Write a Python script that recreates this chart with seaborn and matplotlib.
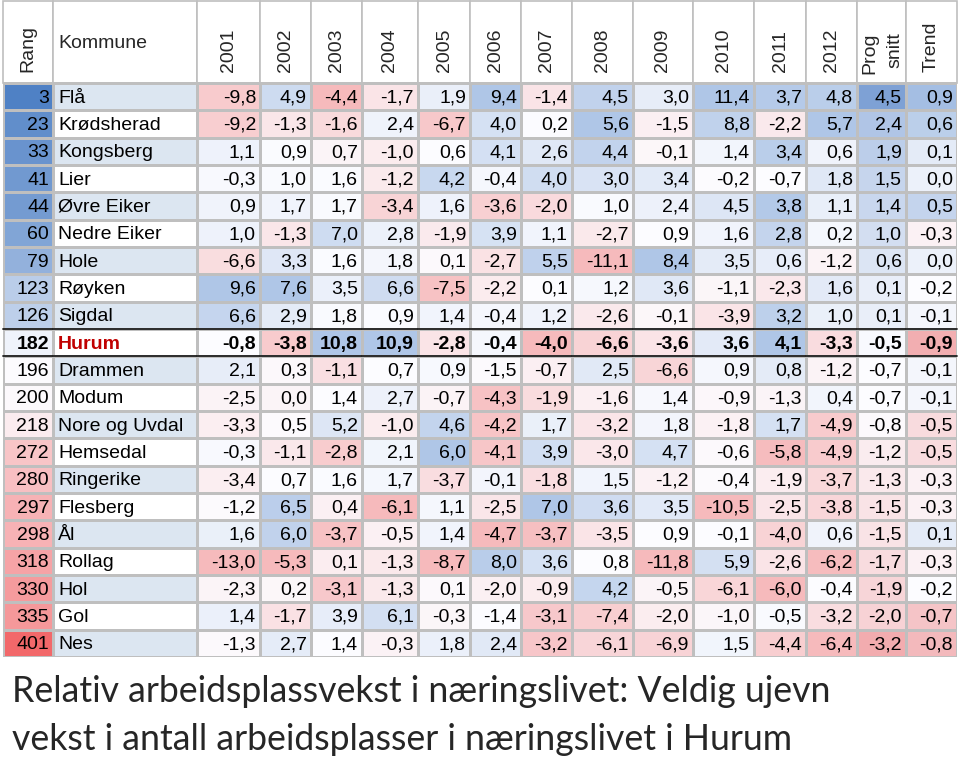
import numpy as np
import pandas as pd
import matplotlib
matplotlib.use("Agg")
import matplotlib.pyplot as plt
import seaborn as sns
from matplotlib.colors import LinearSegmentedColormap, ListedColormap, TwoSlopeNorm
from matplotlib.patches import Rectangle

sns.set_theme(style="white")
plt.rcParams['font.family'] = ['Liberation Sans', 'DejaVu Sans']

# ---- data ----
rang = [3, 23, 33, 41, 44, 60, 79, 123, 126, 182, 196, 200, 218, 272, 280, 297, 298, 318, 330, 335, 401]
kommune = ["Flå", "Krødsherad", "Kongsberg", "Lier", "Øvre Eiker", "Nedre Eiker", "Hole", "Røyken",
           "Sigdal", "Hurum", "Drammen", "Modum", "Nore og Uvdal", "Hemsedal", "Ringerike", "Flesberg",
           "Ål", "Rollag", "Hol", "Gol", "Nes"]

y2001 = [-9.8, -9.2, 1.1, -0.3, 0.9, 1.0, -6.6, 9.6, 6.6, -0.8, 2.1, -2.5, -3.3, -0.3, -3.4, -1.2, 1.6, -13.0, -2.3, 1.4, -1.3]
y2002 = [4.9, -1.3, 0.9, 1.0, 1.7, -1.3, 3.3, 7.6, 2.9, -3.8, 0.3, 0.0, 0.5, -1.1, 0.7, 6.5, 6.0, -5.3, 0.2, -1.7, 2.7]
y2003 = [-4.4, -1.6, 0.7, 1.6, 1.7, 7.0, 1.6, 3.5, 1.8, 10.8, -1.1, 1.4, 5.2, -2.8, 1.6, 0.4, -3.7, 0.1, -3.1, 3.9, 1.4]
y2004 = [-1.7, 2.4, -1.0, -1.2, -3.4, 2.8, 1.8, 6.6, 0.9, 10.9, 0.7, 2.7, -1.0, 2.1, 1.7, -6.1, -0.5, -1.3, -1.3, 6.1, -0.3]
y2005 = [1.9, -6.7, 0.6, 4.2, 1.6, -1.9, 0.1, -7.5, 1.4, -2.8, 0.9, -0.7, 4.6, 6.0, -3.7, 1.1, 1.4, -8.7, 0.1, -0.3, 1.8]
y2006 = [9.4, 4.0, 4.1, -0.4, -3.6, 3.9, -2.7, -2.2, -0.4, -0.4, -1.5, -4.3, -4.2, -4.1, -0.1, -2.5, -4.7, 8.0, -2.0, -1.4, 2.4]
y2007 = [-1.4, 0.2, 2.6, 4.0, -2.0, 1.1, 5.5, 0.1, 1.2, -4.0, -0.7, -1.9, 1.7, 3.9, -1.8, 7.0, -3.7, 3.6, -0.9, -3.1, -3.2]
y2008 = [4.5, 5.6, 4.4, 3.0, 1.0, -2.7, -11.1, 1.2, -2.6, -6.6, 2.5, -1.6, -3.2, -3.0, 1.5, 3.6, -3.5, 0.8, 4.2, -7.4, -6.1]
y2009 = [3.0, -1.5, -0.1, 3.4, 2.4, 0.9, 8.4, 3.6, -0.1, -3.6, -6.6, 1.4, 1.8, 4.7, -1.2, 3.5, 0.9, -11.8, -0.5, -2.0, -6.9]
y2010 = [11.4, 8.8, 1.4, -0.2, 4.5, 1.6, 3.5, -1.1, -3.9, 3.6, 0.9, -0.9, -1.8, -0.6, -0.4, -10.5, -0.1, 5.9, -6.1, -1.0, 1.5]
y2011 = [3.7, -2.2, 3.4, -0.7, 3.8, 2.8, 0.6, -2.3, 3.2, 4.1, 0.8, -1.3, 1.7, -5.8, -1.9, -2.5, -4.0, -2.6, -6.0, -0.5, -4.4]
y2012 = [4.8, 5.7, 0.6, 1.8, 1.1, 0.2, -1.2, 1.6, 1.0, -3.3, -1.2, 0.4, -4.9, -4.9, -3.7, -3.8, 0.6, -6.2, -0.4, -3.2, -6.4]
prog_snitt = [4.5, 2.4, 1.9, 1.5, 1.4, 1.0, 0.6, 0.1, 0.1, -0.5, -0.7, -0.7, -0.8, -1.2, -1.3, -1.5, -1.5, -1.7, -1.9, -2.0, -3.2]
trend = [0.9, 0.6, 0.1, 0.0, 0.5, -0.3, 0.0, -0.2, -0.1, -0.9, -0.1, -0.1, -0.5, -0.5, -0.3, -0.3, 0.1, -0.3, -0.2, -0.7, -0.8]

years = ["2001", "2002", "2003", "2004", "2005", "2006", "2007", "2008", "2009", "2010", "2011", "2012"]
df = pd.DataFrame(dict(zip(years, [y2001, y2002, y2003, y2004, y2005, y2006, y2007, y2008,
                                   y2009, y2010, y2011, y2012])))
df["Prog snitt"] = prog_snitt
df["Trend"] = trend
highlight = "Hurum"

# ---- layout / style ----
col_px = [50, 144, 63, 51, 51, 56, 52, 51, 51, 61, 60, 61, 52, 51, 49, 51]
grid = "#BFBFBF"
white = "#FCFCFF"
fs = 14
n = len(kommune)
hl = kommune.index(highlight)


def scale_cmap(low, high):
    return LinearSegmentedColormap.from_list("x", [low, white, high])


cmap_rang = scale_cmap("#4F81C5", "#F2686A")   # low rank = blue
cmap_year = scale_cmap("#F6BABC", "#AFC6E7")
cmap_prog = scale_cmap("#F2ACAF", "#7EA1D5")
cmap_trend = scale_cmap("#F2AEB1", "#A4BEE3")

fig = plt.figure(figsize=(9.6, 7.58), dpi=100)
gs = fig.add_gridspec(1, len(col_px), width_ratios=col_px, left=3 / 960, right=957 / 960,
                      top=1 - 1 / 758, bottom=1 - 657 / 758, wspace=0)
axes = [fig.add_subplot(gs[0, i]) for i in range(len(col_px))]


def heat(ax, values, cmap, norm=None):
    sns.heatmap(pd.DataFrame({"v": values}), ax=ax, cmap=cmap, norm=norm, cbar=False,
                linewidths=0.8, linecolor=grid, xticklabels=False, yticklabels=False)
    ax.set_ylim(n, -3)
    ax.set_xlim(0, 1)
    ax.add_patch(Rectangle((0, -3), 1, 3, fill=False, edgecolor=grid, lw=1.2, clip_on=False))
    for y in (hl, hl + 1):
        ax.plot([0, 1], [y, y], color="#202020", lw=1.3, clip_on=False)
    ax.set_xlabel("")
    ax.set_ylabel("")


def numbers(ax, values, w, fmt):
    for i, v in enumerate(values):
        ax.text(1 - 4 / w, i + 0.55, fmt(v), ha="right", va="center", fontsize=fs,
                fontweight="bold" if i == hl else "normal", color="black")


def comma(v):
    return f"{v:.1f}".replace(".", ",")


# Rang column
ax = axes[0]
heat(ax, rang, cmap_rang, TwoSlopeNorm(vcenter=np.median(rang), vmin=min(rang), vmax=max(rang)))
numbers(ax, rang, col_px[0], str)
ax.text(0.5, -0.4, "Rang", rotation=90, ha="center", va="bottom", fontsize=fs)

# Kommune column (striped background)
ax = axes[1]
stripes = np.arange(n) % 2
heat(ax, stripes, ListedColormap(["#DCE6F1", "white"]))
for i, name in enumerate(kommune):
    ax.text(5 / col_px[1], i + 0.55, name, ha="left", va="center", fontsize=fs,
            fontweight="bold" if i == hl else "normal",
            color="#C00000" if i == hl else "black")
ax.text(5 / col_px[1], -1.45, "Kommune", ha="left", va="center", fontsize=fs)

# value columns, each with its own 3-colour scale
for j, col in enumerate(df.columns):
    ax = axes[j + 2]
    vals = df[col].values
    cm = cmap_year if col in years else (cmap_prog if col == "Prog snitt" else cmap_trend)
    norm = TwoSlopeNorm(vcenter=np.median(vals), vmin=vals.min(), vmax=vals.max())
    heat(ax, vals, cm, norm)
    numbers(ax, vals, col_px[j + 2], comma)
    if col == "Prog snitt":
        ax.text(0.27, -1.85, "Prog", rotation=90, ha="center", va="top", fontsize=fs)
        ax.text(0.78, -1.85, "snitt", rotation=90, ha="center", va="top", fontsize=fs)
    else:
        ax.text(0.5, -0.4, col, rotation=90, ha="center", va="bottom", fontsize=fs)

# title below the table
fig.text(12 / 960, 1 - 692 / 758, "Relativ arbeidsplassvekst i næringslivet: Veldig ujevn",
         ha="left", va="center", fontsize=25.7, family=["Lato", "DejaVu Sans"])
fig.text(12 / 960, 1 - 740 / 758, "vekst i antall arbeidsplasser i næringslivet i Hurum",
         ha="left", va="center", fontsize=25.7, family=["Lato", "DejaVu Sans"])

fig.savefig("out.png", dpi=100, facecolor="white")
